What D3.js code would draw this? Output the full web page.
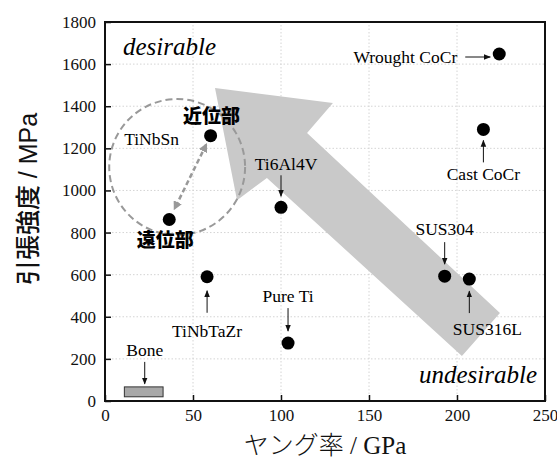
<!DOCTYPE html>
<html>
<head>
<meta charset="utf-8">
<script src="https://cdn.jsdelivr.net/npm/d3@7"></script>
<style>
  body { margin: 0; background: #fff; }
  svg { display: block; }
</style>
</head>
<body>
<script>
// Materials: Young's modulus (GPa) vs tensile strength (MPa)
var materials = ['Wrought CoCr', 'Cast CoCr', 'Ti6Al4V', 'TiNbTaZr', 'Pure Ti', 'SUS304', 'SUS316L', '近位部', '遠位部'];
var modulus   = [224, 215, 100, 58, 104, 193, 207, 60, 36.5];
var strength  = [1648, 1290, 920, 590, 275, 593, 579, 1260, 862];

// Bone range box
var boneModulus = [11, 33];
var boneStrength = [20, 67];

// TiNbSn dashed circle (centre, radius in data units)
var circleCentre = [41, 1111];
var circleRadius = [38.6, 323];

// big grey trend arrow, in data units
var arrowPoly = [[62.5, 1486], [129.5, 1415], [114.8, 1273], [224.4, 418], [202.8, 214], [92, 1059], [75, 954]];

var xTicks = [0, 50, 100, 150, 200, 250];
var yTicks = [0, 200, 400, 600, 800, 1000, 1200, 1400, 1600, 1800];

// label layout relative to each point
var labelLayout = {
  'Wrought CoCr': { anchor: 'end', dx: -42, dy: 9, arrow: [-34, -9], horiz: true, ady: 3 },
  'Cast CoCr':    { anchor: 'middle', dx: 0, dy: 51, arrow: [33, 11] },
  'Ti6Al4V':      { anchor: 'middle', dx: 5, dy: -37, arrow: [-32, -11] },
  'TiNbTaZr':     { anchor: 'middle', dx: 0, dy: 60, arrow: [36, 14] },
  'Pure Ti':      { anchor: 'middle', dx: 0, dy: -41, arrow: [-35, -12] },
  'SUS304':       { anchor: 'middle', dx: 0, dy: -41, arrow: [-34, -12] },
  'SUS316L':      { anchor: 'middle', dx: 18, dy: 56, arrow: [34, 12] },
  '近位部':        { anchor: 'middle', dx: 1, dy: -13, jp: true },
  '遠位部':        { anchor: 'middle', dx: -4, dy: 27, jp: true }
};

var W = 557, H = 461;
var x = d3.scaleLinear().domain([0, 250]).range([105, 545]);
var y = d3.scaleLinear().domain([0, 1800]).range([401, 22]);

var serif = "'Liberation Serif', 'Times New Roman', 'DejaVu Serif', serif";
var jpSans = "'Noto Sans CJK JP', sans-serif";

var svg = d3.select('body').append('svg')
    .attr('width', W)
    .attr('height', H);

var defs = svg.append('defs');
defs.append('marker')
    .attr('id', 'head')
    .attr('viewBox', '0 0 10 10')
    .attr('refX', 9).attr('refY', 5)
    .attr('markerWidth', 7).attr('markerHeight', 7)
    .attr('markerUnits', 'userSpaceOnUse')
    .attr('orient', 'auto')
  .append('path')
    .attr('d', 'M0,1 L10,5 L0,9 Z')
    .attr('fill', '#111');
defs.append('marker')
    .attr('id', 'greyhead')
    .attr('viewBox', '0 0 10 10')
    .attr('refX', 8).attr('refY', 5)
    .attr('markerWidth', 9).attr('markerHeight', 9)
    .attr('markerUnits', 'userSpaceOnUse')
    .attr('orient', 'auto-start-reverse')
  .append('path')
    .attr('d', 'M0,0 L10,5 L0,10 Z')
    .attr('fill', '#999');

// dotted grid
svg.append('g')
  .selectAll('line')
  .data(xTicks.slice(1, -1))
  .enter().append('line')
    .attr('x1', function(d) { return x(d); })
    .attr('x2', function(d) { return x(d); })
    .attr('y1', y(0)).attr('y2', y(1800))
    .attr('stroke', '#d4d4d4')
    .attr('stroke-dasharray', '1.5,2');
svg.append('g')
  .selectAll('line')
  .data(yTicks.slice(1, -1))
  .enter().append('line')
    .attr('y1', function(d) { return y(d); })
    .attr('y2', function(d) { return y(d); })
    .attr('x1', x(0)).attr('x2', x(250))
    .attr('stroke', '#d4d4d4')
    .attr('stroke-dasharray', '1.5,2');

// big grey arrow
svg.append('path')
    .attr('d', d3.line()
      .x(function(d) { return x(d[0]); })
      .y(function(d) { return y(d[1]); })(arrowPoly) + 'Z')
    .attr('fill', '#c9c9c9');

// TiNbSn circle
svg.append('ellipse')
    .attr('cx', x(circleCentre[0]))
    .attr('cy', y(circleCentre[1]))
    .attr('rx', x(circleCentre[0] + circleRadius[0]) - x(circleCentre[0]))
    .attr('ry', y(circleCentre[1] - circleRadius[1]) - y(circleCentre[1]))
    .attr('fill', 'none')
    .attr('stroke', '#999')
    .attr('stroke-width', 2)
    .attr('stroke-dasharray', '7,4');

svg.append('text')
    .attr('x', x(circleCentre[0]) - 53)
    .attr('y', y(circleCentre[1]) - 22)
    .style('font-family', serif)
    .style('font-size', '17.5px')
    .text('TiNbSn');

// dashed double arrow between proximal and distal
(function() {
  var i = materials.indexOf('近位部'), j = materials.indexOf('遠位部');
  var x1 = x(modulus[i]), y1 = y(strength[i]), x2 = x(modulus[j]), y2 = y(strength[j]);
  var len = Math.sqrt((x2 - x1) * (x2 - x1) + (y2 - y1) * (y2 - y1));
  var ux = (x2 - x1) / len, uy = (y2 - y1) / len;
  svg.append('line')
      .attr('x1', x1 + ux * 10).attr('y1', y1 + uy * 10)
      .attr('x2', x2 - ux * 12).attr('y2', y2 - uy * 12)
      .attr('stroke', '#999')
      .attr('stroke-width', 2.5)
      .attr('stroke-dasharray', '5,3')
      .attr('marker-start', 'url(#greyhead)')
      .attr('marker-end', 'url(#greyhead)');
})();

// bone box
svg.append('rect')
    .attr('x', x(boneModulus[0]))
    .attr('y', y(boneStrength[1]))
    .attr('width', x(boneModulus[1]) - x(boneModulus[0]))
    .attr('height', y(boneStrength[0]) - y(boneStrength[1]))
    .attr('fill', '#a8a8a8')
    .attr('stroke', '#333')
    .attr('stroke-width', 1);
var boneCx = x((boneModulus[0] + boneModulus[1]) / 2);
svg.append('text')
    .attr('x', boneCx + 1)
    .attr('y', y(boneStrength[1]) - 31)
    .attr('text-anchor', 'middle')
    .style('font-family', serif)
    .style('font-size', '17.5px')
    .text('Bone');
svg.append('line')
    .attr('x1', boneCx + 1).attr('x2', boneCx + 1)
    .attr('y1', y(boneStrength[1]) - 25)
    .attr('y2', y(boneStrength[1]) - 3)
    .attr('stroke', '#111')
    .attr('marker-end', 'url(#head)');

// points
var pts = materials.map(function(m, i) {
  return { name: m, e: modulus[i], s: strength[i] };
});
svg.append('g')
  .selectAll('circle')
  .data(pts)
  .enter().append('circle')
    .attr('cx', function(d) { return x(d.e); })
    .attr('cy', function(d) { return y(d.s); })
    .attr('r', 6.5)
    .attr('fill', '#000');

// labels + pointer arrows
var lab = svg.append('g');
pts.forEach(function(d) {
  var L = labelLayout[d.name];
  var px = x(d.e), py = y(d.s);
  lab.append('text')
      .attr('x', px + L.dx)
      .attr('y', py + L.dy)
      .attr('text-anchor', L.anchor)
      .style('font-family', L.jp ? jpSans : serif)
      .style('font-weight', L.jp ? 900 : 400)
      .style('font-size', L.jp ? '19px' : '17.5px')
      .text(d.name);
  if (L.arrow) {
    var ln = lab.append('line')
        .attr('stroke', '#111')
        .attr('stroke-width', 1)
        .attr('marker-end', 'url(#head)');
    if (L.horiz) {
      ln.attr('x1', px + L.arrow[0]).attr('x2', px + L.arrow[1])
        .attr('y1', py + L.ady).attr('y2', py + L.ady);
    } else {
      ln.attr('x1', px).attr('x2', px)
        .attr('y1', py + L.arrow[0]).attr('y2', py + L.arrow[1]);
    }
  }
});

// desirable / undesirable
svg.append('text')
    .attr('x', 123).attr('y', 55)
    .style('font-family', serif)
    .style('font-style', 'italic')
    .style('font-size', '25px')
    .text('desirable');
svg.append('text')
    .attr('x', 537).attr('y', 383)
    .attr('text-anchor', 'end')
    .style('font-family', serif)
    .style('font-style', 'italic')
    .style('font-size', '25px')
    .text('undesirable');

// axes, ticks inward
var fmt = d3.format('d');
var gx = svg.append('g')
    .attr('transform', 'translate(0,' + y(0) + ')')
    .call(d3.axisBottom(x).tickValues(xTicks).tickFormat(fmt).tickSizeInner(-6).tickSizeOuter(0).tickPadding(8));
var gy = svg.append('g')
    .attr('transform', 'translate(' + x(0) + ',0)')
    .call(d3.axisLeft(y).tickValues(yTicks).tickFormat(fmt).tickSizeInner(-6).tickSizeOuter(0).tickPadding(9));
[gx, gy].forEach(function(g) {
  g.attr('font-family', null).attr('font-size', null);
  g.select('.domain').remove();
  g.selectAll('line').attr('stroke', '#111').attr('stroke-width', 1.5);
  g.selectAll('text')
    .style('font-family', serif)
    .style('font-size', '17px')
    .attr('fill', '#111');
});
gx.selectAll('text').attr('dy', '0.71em');

// frame
svg.append('rect')
    .attr('x', x(0)).attr('y', y(1800))
    .attr('width', x(250) - x(0))
    .attr('height', y(0) - y(1800))
    .attr('fill', 'none')
    .attr('stroke', '#111')
    .attr('stroke-width', 2);

// axis titles
var xt = svg.append('text')
    .attr('x', 325).attr('y', 454)
    .attr('text-anchor', 'middle')
    .style('font-size', '25px')
    .attr('fill', '#111');
xt.append('tspan').style('font-family', jpSans).style('font-weight', 300).text('ヤング率');
xt.append('tspan').style('font-family', serif).text(' / GPa');

var yt = svg.append('text')
    .attr('transform', 'translate(37,199) rotate(-90)')
    .attr('text-anchor', 'middle')
    .style('font-size', '25px')
    .attr('fill', '#111');
yt.append('tspan').style('font-family', jpSans).style('font-weight', 500).text('引張強度');
yt.append('tspan').style('font-family', "'Liberation Sans', Arial, sans-serif").text(' / MPa');
</script>
</body>
</html>
